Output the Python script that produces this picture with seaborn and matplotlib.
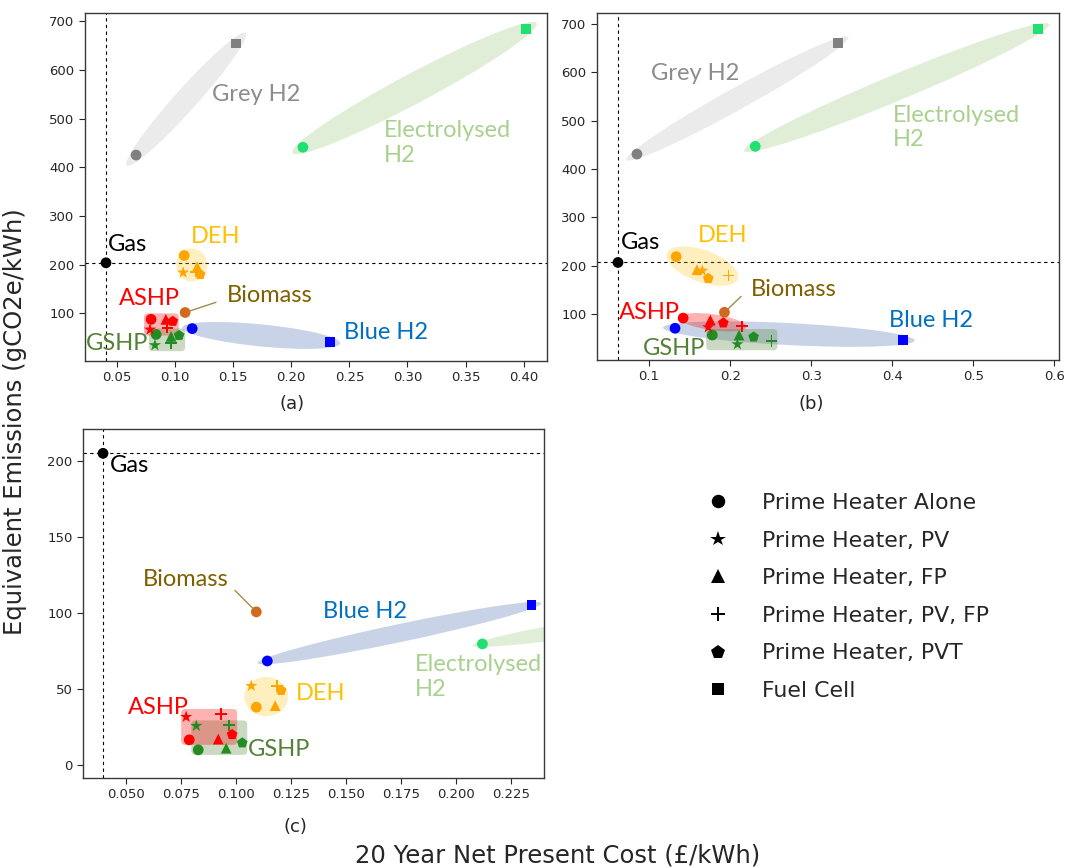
import numpy as np
import pandas as pd
import matplotlib
matplotlib.use("Agg")
import matplotlib.pyplot as plt
import seaborn as sns
from matplotlib.patches import Ellipse, FancyBboxPatch
from matplotlib.transforms import IdentityTransform
from matplotlib.path import Path
from matplotlib.lines import Line2D

# ---------------- data ----------------
CONFIGS = ["Prime Heater Alone", "Prime Heater, PV", "Prime Heater, FP",
           "Prime Heater, PV, FP", "Prime Heater, PVT"]
H2_CONFIGS = ["Prime Heater Alone", "Fuel Cell"]
LEGEND_ORDER = CONFIGS + ["Fuel Cell"]

# Panel (a)
A_GAS_X, A_GAS_Y = [0.0405], [204]
A_BIOMASS_X, A_BIOMASS_Y = [0.1086], [102]
A_ASHP_X = [0.0793, 0.0784, 0.0920, 0.0933, 0.0980]
A_ASHP_Y = [88, 67, 88, 71, 84]
A_GSHP_X = [0.0836, 0.0826, 0.0965, 0.0965, 0.1034]
A_GSHP_Y = [57, 35, 53, 39, 55]
A_DEH_X = [0.1078, 0.1069, 0.1190, 0.1181, 0.1216]
A_DEH_Y = [219, 184, 196, 186, 180]
A_GREY_X, A_GREY_Y = [0.0664, 0.1526], [425, 654]
A_ELEC_X, A_ELEC_Y = [0.210, 0.402], [441, 684]
A_BLUE_X, A_BLUE_Y = [0.1147, 0.2336], [69, 41]

# Panel (b)
B_GAS_X, B_GAS_Y = [0.0616], [207]
B_BIOMASS_X, B_BIOMASS_Y = [0.193], [104]
B_ASHP_X = [0.142, 0.173, 0.1755, 0.215, 0.1916]
B_ASHP_Y = [92, 73, 88, 75, 82]
B_GSHP_X = [0.178, 0.209, 0.211, 0.251, 0.229]
B_GSHP_Y = [57, 38, 57, 45, 53]
B_DEH_X = [0.1334, 0.1656, 0.159, 0.198, 0.173]
B_DEH_Y = [219, 190, 192, 180, 174]
B_GREY_X, B_GREY_Y = [0.085, 0.333], [431, 661]
B_ELEC_X, B_ELEC_Y = [0.231, 0.580], [447, 690]
B_BLUE_X, B_BLUE_Y = [0.132, 0.413], [71, 47]

# Panel (c)
C_GAS_X, C_GAS_Y = [0.0395], [205]
C_BIOMASS_X, C_BIOMASS_Y = [0.1092], [100.7]
C_ASHP_X = [0.0787, 0.0773, 0.0919, 0.0932, 0.0982]
C_ASHP_Y = [16.5, 31.6, 17, 33.5, 20]
C_GSHP_X = [0.0828, 0.0819, 0.0955, 0.0969, 0.1028]
C_GSHP_Y = [9.9, 25.7, 11, 26, 14.5]
C_DEH_X = [0.1092, 0.1069, 0.1178, 0.1187, 0.1205]
C_DEH_Y = [38, 52, 39, 52, 49]
C_ELEC_X, C_ELEC_Y = [0.212, 0.400], [79.6, 122]
C_BLUE_X, C_BLUE_Y = [0.1142, 0.2343], [68.4, 105]

# ---------------- styles ----------------
PALETTE = {"Gas": "black", "Biomass": "#d2691e", "ASHP": "#ff0000",
           "GSHP": "#228b22", "DEH": "#ffa500", "Grey H2": "#808080",
           "Electrolysed H2": "#1fe070", "Blue H2": "#0000ff"}
LABEL_COLORS = {"Gas": "black", "Biomass": "#7f6000", "ASHP": "#ff0000",
                "GSHP": "#548235", "DEH": "#ffc000", "Grey H2": "#8c8c8c",
                "Electrolysed H2": "#a9d18e", "Blue H2": "#0070c0"}

t = 0.16
PLUS = Path([(-t, -1), (t, -1), (t, -t), (1, -t), (1, t), (t, t), (t, 1),
             (-t, 1), (-t, t), (-1, t), (-1, -t), (-t, -t), (-t, -1)],
            closed=True)
MARKERS = {"Prime Heater Alone": "o", "Prime Heater, PV": "*",
           "Prime Heater, FP": "^", "Prime Heater, PV, FP": PLUS,
           "Prime Heater, PVT": "p", "Fuel Cell": "s"}
SIZES = {"Prime Heater Alone": 60, "Prime Heater, PV": 85,
         "Prime Heater, FP": 60, "Prime Heater, PV, FP": 70,
         "Prime Heater, PVT": 65, "Fuel Cell": 50}

LABEL_FONT = ["Lato", "DejaVu Sans"]
LABEL_SIZE = 17


def frame(groups):
    rows = []
    for tech, xs, ys, cfgs in groups:
        for x, y, c in zip(xs, ys, cfgs):
            rows.append({"cost": x, "emis": y, "tech": tech, "config": c})
    return pd.DataFrame(rows)


def capsule(ax, xs, ys, i, j, thick, ext, color, alpha):
    p = ax.transData.transform(np.column_stack([xs, ys]))
    d = p[j] - p[i]
    length = np.hypot(d[0], d[1]) + 2 * ext
    ang = np.degrees(np.arctan2(d[1], d[0]))
    c = (p[i] + p[j]) / 2
    ax.add_patch(Ellipse(c, length, thick, angle=ang, transform=IdentityTransform(),
                         facecolor=color, alpha=alpha, edgecolor="none", zorder=1))


def blob(ax, xs, ys, padx, pady, color, alpha):
    p = ax.transData.transform(np.column_stack([xs, ys]))
    lo, hi = p.min(axis=0), p.max(axis=0)
    c = (lo + hi) / 2
    ax.add_patch(Ellipse(c, hi[0] - lo[0] + 2 * padx, hi[1] - lo[1] + 2 * pady,
                         transform=IdentityTransform(), facecolor=color,
                         alpha=alpha, edgecolor="none", zorder=1))


def box(ax, xs, ys, pad, color, alpha):
    p = ax.transData.transform(np.column_stack([xs, ys]))
    lo, hi = p.min(axis=0) - pad, p.max(axis=0) + pad
    ax.add_patch(FancyBboxPatch(lo, hi[0] - lo[0], hi[1] - lo[1],
                                boxstyle="round,pad=0,rounding_size=4",
                                transform=IdentityTransform(), facecolor=color,
                                alpha=alpha, edgecolor="none", zorder=1))


def label(ax, x, y, text, key):
    ax.text(x, y, text, color=LABEL_COLORS[key], fontsize=LABEL_SIZE,
            family=LABEL_FONT, ha="left", va="center", zorder=5)


def biomass_label(ax, xy, xytext, relpos, shrink):
    ax.annotate("Biomass", xy=xy, xytext=xytext, color=LABEL_COLORS["Biomass"],
                fontsize=LABEL_SIZE, family=LABEL_FONT, va="center", ha="left",
                zorder=5,
                arrowprops=dict(arrowstyle="-", color="#a08c50", lw=1,
                                relpos=relpos, shrinkA=shrink, shrinkB=3))


def draw_points(ax, df, gas_x, gas_y):
    sns.scatterplot(data=df, x="cost", y="emis", hue="tech", style="config",
                    size="config", sizes=SIZES, palette=PALETTE, markers=MARKERS,
                    linewidth=0, legend=False, ax=ax, zorder=3)
    ax.axvline(gas_x[0], color="black", ls=(0, (3, 3)), lw=0.8, zorder=0.5)
    ax.axhline(gas_y[0], color="black", ls=(0, (3, 3)), lw=0.8, zorder=0.5)
    ax.set_xlabel("")
    ax.set_ylabel("")
    ax.tick_params(labelsize=9.5, colors="#262626", length=4, width=0.8)
    for s in ax.spines.values():
        s.set_color("#3a3a3a")
        s.set_linewidth(1.0)


sns.set_theme(style="ticks")
plt.rcParams["font.family"] = ["DejaVu Sans"]

W, H = 1070, 868
fig = plt.figure(figsize=(W / 100, H / 100), dpi=100)


def axes_px(l, t, r, b):
    return fig.add_axes([l / W, 1 - b / H, (r - l) / W, (b - t) / H])


ax_a = axes_px(85, 13, 547, 361)
ax_b = axes_px(597, 13, 1059, 360)
ax_c = axes_px(83, 429, 544, 778)

# ---------- panel (a) ----------
df_a = frame([("Gas", A_GAS_X, A_GAS_Y, CONFIGS[:1]),
              ("Biomass", A_BIOMASS_X, A_BIOMASS_Y, CONFIGS[:1]),
              ("GSHP", A_GSHP_X, A_GSHP_Y, CONFIGS),
              ("ASHP", A_ASHP_X, A_ASHP_Y, CONFIGS),
              ("DEH", A_DEH_X, A_DEH_Y, CONFIGS),
              ("Grey H2", A_GREY_X, A_GREY_Y, H2_CONFIGS),
              ("Electrolysed H2", A_ELEC_X, A_ELEC_Y, H2_CONFIGS),
              ("Blue H2", A_BLUE_X, A_BLUE_Y, H2_CONFIGS)])
draw_points(ax_a, df_a, A_GAS_X, A_GAS_Y)
ax_a.set_xlim(ax_a.get_xlim())
ax_a.set_ylim(ax_a.get_ylim())
capsule(ax_a, A_GREY_X, A_GREY_Y, 0, 1, 22, 14, "#bfbfbf", 0.3)
capsule(ax_a, A_ELEC_X, A_ELEC_Y, 0, 1, 30, 12, "#a9d18e", 0.35)
capsule(ax_a, A_BLUE_X, A_BLUE_Y, 0, 1, 22, 10, "#4a6fb0", 0.3)
blob(ax_a, A_DEH_X, A_DEH_Y, 7, 7, "#ffc000", 0.25)
box(ax_a, A_ASHP_X, A_ASHP_Y, 6, "#ff0000", 0.3)
box(ax_a, A_GSHP_X, A_GSHP_Y, 6, "#548235", 0.3)
label(ax_a, 0.0422, 241, "Gas", "Gas")
label(ax_a, 0.1319, 550, "Grey H2", "Grey H2")
label(ax_a, 0.280, 450, "Electrolysed\nH2", "Electrolysed H2")
label(ax_a, 0.1138, 257, "DEH", "DEH")
label(ax_a, 0.0517, 131, "ASHP", "ASHP")
label(ax_a, 0.0233, 38.6, "GSHP", "GSHP")
label(ax_a, 0.2457, 61, "Blue H2", "Blue H2")
biomass_label(ax_a, (A_BIOMASS_X[0], A_BIOMASS_Y[0]), (0.1448, 137), (0, 0.35), 6)

# ---------- panel (b) ----------
df_b = frame([("Gas", B_GAS_X, B_GAS_Y, CONFIGS[:1]),
              ("Biomass", B_BIOMASS_X, B_BIOMASS_Y, CONFIGS[:1]),
              ("GSHP", B_GSHP_X, B_GSHP_Y, CONFIGS),
              ("ASHP", B_ASHP_X, B_ASHP_Y, CONFIGS),
              ("DEH", B_DEH_X, B_DEH_Y, CONFIGS),
              ("Grey H2", B_GREY_X, B_GREY_Y, H2_CONFIGS),
              ("Electrolysed H2", B_ELEC_X, B_ELEC_Y, H2_CONFIGS),
              ("Blue H2", B_BLUE_X, B_BLUE_Y, H2_CONFIGS)])
draw_points(ax_b, df_b, B_GAS_X, B_GAS_Y)
ax_b.set_xlim(ax_b.get_xlim())
ax_b.set_ylim(ax_b.get_ylim())
capsule(ax_b, B_GREY_X, B_GREY_Y, 0, 1, 22, 12, "#bfbfbf", 0.3)
capsule(ax_b, B_ELEC_X, B_ELEC_Y, 0, 1, 26, 12, "#a9d18e", 0.35)
capsule(ax_b, B_BLUE_X, B_BLUE_Y, 0, 1, 22, 12, "#4a6fb0", 0.3)
capsule(ax_b, B_DEH_X, B_DEH_Y, 0, 3, 32, 10, "#ffc000", 0.25)
capsule(ax_b, B_ASHP_X, B_ASHP_Y, 0, 3, 16, 4, "#ff0000", 0.3)
box(ax_b, B_GSHP_X, B_GSHP_Y, 6, "#548235", 0.3)
label(ax_b, 0.0653, 248, "Gas", "Gas")
label(ax_b, 0.1025, 597, "Grey H2", "Grey H2")
label(ax_b, 0.4007, 486, "Electrolysed\nH2", "Electrolysed H2")
label(ax_b, 0.1606, 262, "DEH", "DEH")
label(ax_b, 0.0629, 104, "ASHP", "ASHP")
label(ax_b, 0.0926, 30, "GSHP", "GSHP")
label(ax_b, 0.3958, 88, "Blue H2", "Blue H2")
biomass_label(ax_b, (B_BIOMASS_X[0], B_BIOMASS_Y[0]), (0.225, 151), (0, 0.6), 6)

# ---------- panel (c) ----------
df_c = frame([("Gas", C_GAS_X, C_GAS_Y, CONFIGS[:1]),
              ("Biomass", C_BIOMASS_X, C_BIOMASS_Y, CONFIGS[:1]),
              ("GSHP", C_GSHP_X, C_GSHP_Y, CONFIGS),
              ("ASHP", C_ASHP_X, C_ASHP_Y, CONFIGS),
              ("DEH", C_DEH_X, C_DEH_Y, CONFIGS),
              ("Electrolysed H2", C_ELEC_X, C_ELEC_Y, H2_CONFIGS),
              ("Blue H2", C_BLUE_X, C_BLUE_Y, H2_CONFIGS)])
draw_points(ax_c, df_c, C_GAS_X, C_GAS_Y)
ax_c.set_xlim(0.0304, 0.240)
ax_c.set_ylim(-8.6, 221)
capsule(ax_c, C_BLUE_X, C_BLUE_Y, 0, 1, 18, 10, "#4a6fb0", 0.3)
capsule(ax_c, C_ELEC_X, C_ELEC_Y, 0, 1, 20, 10, "#a9d18e", 0.35)
blob(ax_c, C_DEH_X, C_DEH_Y, 7, 9, "#ffc000", 0.25)
box(ax_c, C_GSHP_X, C_GSHP_Y, 5, "#548235", 0.3)
box(ax_c, C_ASHP_X, C_ASHP_Y, 5, "#ff0000", 0.3)
label(ax_c, 0.0427, 197, "Gas", "Gas")
label(ax_c, 0.1397, 100.7, "Blue H2", "Blue H2")
label(ax_c, 0.1815, 57.9, "Electrolysed\nH2", "Electrolysed H2")
label(ax_c, 0.1274, 46.7, "DEH", "DEH")
label(ax_c, 0.0509, 37.5, "ASHP", "ASHP")
label(ax_c, 0.1055, 9.9, "GSHP", "GSHP")
biomass_label(ax_c, (C_BIOMASS_X[0], C_BIOMASS_Y[0]), (0.0577, 121.7), (1, 0.3), 3)

# ---------- panel tags, axis labels, legend ----------
fig.text(292 / W, 1 - 404 / H, "(a)", ha="center", va="center", fontsize=13)
fig.text(811 / W, 1 - 404 / H, "(b)", ha="center", va="center", fontsize=13)
fig.text(295 / W, 1 - 827 / H, "(c)", ha="center", va="center", fontsize=13)
fig.text(15 / W, 1 - 422 / H, "Equivalent Emissions (gCO2e/kWh)", rotation=90,
         ha="center", va="center", fontsize=17.5, color="#262626")
fig.text(558 / W, 1 - 855 / H, "20 Year Net Present Cost (£/kWh)",
         ha="center", va="center", fontsize=17.5, color="#262626")

handles = [Line2D([], [], marker=MARKERS[c], color="black", linestyle="none",
                  markersize=np.sqrt(SIZES[c]) * 1.25, markeredgewidth=0)
           for c in LEGEND_ORDER]
fig.legend(handles, LEGEND_ORDER, loc="upper left",
           bbox_to_anchor=(696 / W, 1 - 493 / H), frameon=False, fontsize=15.8,
           handletextpad=1.0, labelspacing=0.8, borderaxespad=0, borderpad=0)

fig.savefig("out.png", dpi=100)
